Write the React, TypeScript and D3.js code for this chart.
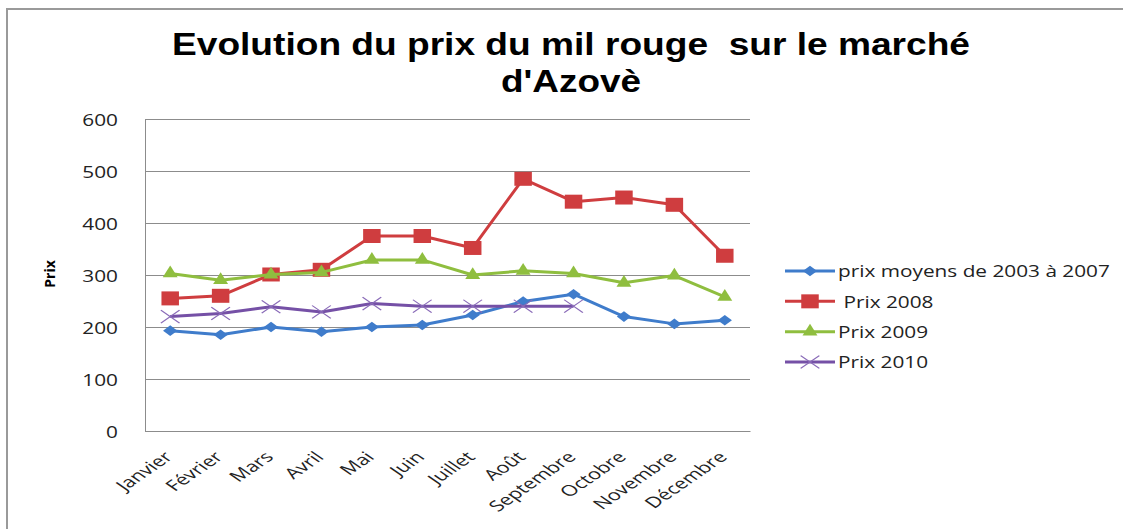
import { useEffect, useRef } from 'react'
import * as d3 from 'd3'

// months on the x axis
const months = [
  'Janvier',
  'Février',
  'Mars',
  'Avril',
  'Mai',
  'Juin',
  'Juillet',
  'Août',
  'Septembre',
  'Octobre',
  'Novembre',
  'Décembre',
]

// price series
const prixMoyens = [193, 185, 200, 191, 200, 204, 223, 249, 263, 220, 206, 213]
const prix2008 = [255, 260, 301, 310, 375, 375, 352, 485, 441, 449, 435, 337]
const prix2009 = [303, 290, 301, 305, 329, 329, 300, 308, 303, 285, 299, 258]
const prix2010 = [220, 226, 239, 229, 245, 240, 240, 240, 240, null, null, null]

const seriesNames = [
  'prix moyens de 2003 à 2007',
  ' Prix 2008',
  'Prix 2009',
  'Prix 2010',
]

const yTicks = [0, 100, 200, 300, 400, 500, 600]

const titleLines = ['Evolution du prix du mil rouge  sur le marché', "d'Azovè"]

const App = () => {
  const svgRef = useRef(null)
  const width = 1123
  const height = 529

  useEffect(() => {
    const SX = 1.3 // the picture is stretched horizontally
    const plotLeft = 145
    const plotRight = 750
    const plotTop = 119
    const plotBottom = 431

    const xScale = d3
      .scalePoint()
      .domain(months)
      .range([plotLeft, plotRight])
      .padding(0.5)
    const yScale = d3.scaleLinear([0, 600], [plotBottom, plotTop])

    const series = [
      { name: seriesNames[0], values: prixMoyens, color: '#3F7CCB', marker: 'diamond' },
      { name: seriesNames[1], values: prix2008, color: '#CF3D3F', marker: 'square' },
      { name: seriesNames[2], values: prix2009, color: '#8FBE3F', marker: 'triangle' },
      { name: seriesNames[3], values: prix2010, color: '#7550A6', marker: 'x' },
    ]

    const svgEl = d3.select(svgRef.current)
    svgEl.selectAll('*').remove()

    svgEl
      .append('rect')
      .attr('width', width)
      .attr('height', height)
      .attr('fill', '#ffffff')

    // outer frame (goes past the right and bottom edges)
    svgEl
      .append('rect')
      .attr('x', 7)
      .attr('y', 9)
      .attr('width', width + 20)
      .attr('height', height + 20)
      .attr('fill', 'none')
      .attr('stroke', '#9a9a9a')
      .attr('stroke-width', 2)

    // title
    svgEl
      .append('g')
      .selectAll('text')
      .data(titleLines)
      .join('text')
      .attr('x', 571)
      .attr('y', (d, i) => 55 + i * 37)
      .attr('text-anchor', 'middle')
      .attr('textLength', (d, i) => (i === 0 ? 798 : 140))
      .attr('lengthAdjust', 'spacingAndGlyphs')
      .style('font-family', 'Liberation Sans')
      .style('font-weight', '700')
      .style('font-size', '32px')
      .style('fill', '#000000')
      .style('white-space', 'pre')
      .text((d) => d)

    // gridlines
    const yAxis = d3.axisLeft(yScale).tickValues(yTicks).tickSize(0).tickPadding(0)
    svgEl
      .append('g')
      .attr('transform', `translate(${plotLeft},0)`)
      .call(yAxis)
      .call((g) => g.select('.domain').attr('stroke', '#8c8c8c'))
      .call((g) =>
        g
          .selectAll('.tick line')
          .attr('x2', plotRight - plotLeft)
          .attr('stroke', '#8c8c8c')
      )
      .call((g) =>
        g
          .selectAll('.tick text')
          .attr('x', null)
          .attr('dy', null)
          .attr('text-anchor', 'end')
          .attr('dominant-baseline', 'central')
          .attr('transform', `translate(-27,0) scale(${SX},1)`)
          .attr('fill', '#222222')
          .style('font-family', 'Open Sans')
          .style('font-size', '16px')
      )

    // y label
    svgEl
      .append('text')
      .attr('transform', 'translate(55,274) rotate(-90)')
      .attr('text-anchor', 'middle')
      .style('font-family', 'Open Sans')
      .style('font-weight', '700')
      .style('font-size', '14px')
      .style('fill', '#000000')
      .text('Prix')

    // x labels
    const xAxis = d3.axisBottom(xScale).tickSize(0)
    svgEl
      .append('g')
      .attr('transform', `translate(0,${plotBottom})`)
      .call(xAxis)
      .call((g) => g.select('.domain').attr('stroke', '#8c8c8c'))
      .call((g) =>
        g
          .selectAll('.tick text')
          .attr('y', null)
          .attr('dy', null)
          .attr('text-anchor', 'end')
          .attr('transform', 'translate(3,27) scale(1.45,1) rotate(-45)')
          .attr('fill', '#222222')
          .style('font-family', 'Open Sans')
          .style('font-size', '15px')
      )

    const symbolFor = {
      diamond: d3.symbol(d3.symbolSquare, 56)(),
      square: d3.symbol(d3.symbolSquare, 196)(),
      triangle: d3.symbol(d3.symbolTriangle, 80)(),
      x: d3.symbol(d3.symbolX, 110)(),
    }
    const markerTransform = {
      diamond: `scale(${SX + 0.05},1) rotate(45)`,
      square: 'scale(1.25,1)',
      triangle: 'scale(1.1,1)',
      x: 'scale(1.45,1)',
    }

    const line = d3
      .line()
      .defined((d) => d[1] !== null)
      .x((d) => xScale(d[0]))
      .y((d) => yScale(d[1]))

    const drawMarkers = (g, s, pts) => {
      g.append('g')
        .selectAll('path')
        .data(pts)
        .join('path')
        .attr('d', symbolFor[s.marker])
        .attr(
          'transform',
          (d) =>
            `translate(${xScale(d[0])},${yScale(d[1])}) ${markerTransform[s.marker]}`
        )
        .attr('fill', s.marker === 'x' ? 'none' : s.color)
        .attr('stroke', s.marker === 'x' ? '#8a6bb8' : 'none')
        .attr('stroke-width', 1)
    }

    series.forEach((s) => {
      const pts = months.map((m, i) => [m, s.values[i]])
      const g = svgEl.append('g')
      g.append('path')
        .datum(pts)
        .attr('d', line)
        .attr('fill', 'none')
        .attr('stroke', s.color)
        .attr('stroke-width', 3)
        .attr('stroke-linejoin', 'round')
      drawMarkers(g, s, pts.filter((d) => d[1] !== null))
    })

    // legend
    const legendX = 785
    const legendY = d3.scalePoint(d3.range(series.length), [271, 362])
    const legend = svgEl
      .append('g')
      .selectAll('g')
      .data(series)
      .join('g')
      .attr('transform', (d, i) => `translate(${legendX},${legendY(i)})`)
    legend
      .append('line')
      .attr('x1', 0)
      .attr('x2', 50)
      .attr('stroke', (d) => d.color)
      .attr('stroke-width', 3)
    legend.each(function (s) {
      const g = d3.select(this)
      g.append('path')
        .attr('d', symbolFor[s.marker])
        .attr('transform', `translate(25,0) ${markerTransform[s.marker]}`)
        .attr('fill', s.marker === 'x' ? 'none' : s.color)
        .attr('stroke', s.marker === 'x' ? '#8a6bb8' : 'none')
    })
    legend
      .append('text')
      .attr('transform', `translate(53,0) scale(${SX},1)`)
      .attr('dominant-baseline', 'central')
      .style('font-family', 'Open Sans')
      .style('font-size', '16px')
      .style('fill', '#222222')
      .style('white-space', 'pre')
      .text((d) => d.name)
  }, [])

  return (
    <svg
      ref={svgRef}
      width={width}
      height={height}
      style={{ position: 'absolute', left: 0, top: 0 }}
    />
  )
}

export default App
